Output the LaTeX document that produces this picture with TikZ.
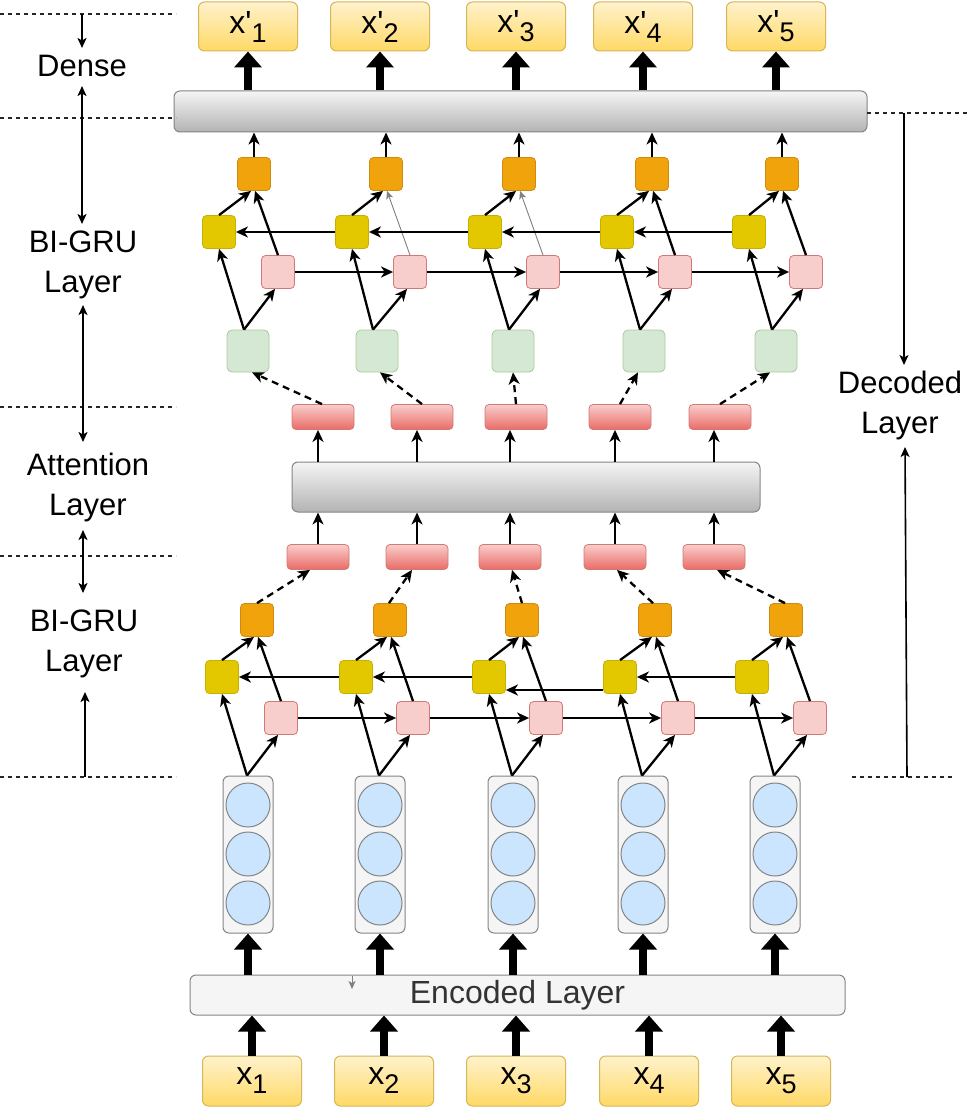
\documentclass[tikz,border=0pt]{standalone}
\usepackage{fontspec}
\newfontfamily\lsans{Liberation Sans}
\usetikzlibrary{arrows.meta,calc}
\definecolor{yfill}{HTML}{FFF2CC}
\definecolor{ygrad}{HTML}{FFD966}
\definecolor{ystroke}{HTML}{D6B656}
\definecolor{gfill}{HTML}{F5F5F5}
\definecolor{ggrad}{HTML}{B3B3B3}
\definecolor{gstroke}{HTML}{666666}
\definecolor{orfill}{HTML}{F0A30A}
\definecolor{orstroke}{HTML}{D08A10}
\definecolor{olfill}{HTML}{E3C800}
\definecolor{olstroke}{HTML}{C8B000}
\definecolor{pkfill}{HTML}{F8CECC}
\definecolor{pkstroke}{HTML}{D07A76}
\definecolor{rdgrad}{HTML}{EA6B66}
\definecolor{grfill}{HTML}{D5E8D4}
\definecolor{grstroke}{HTML}{A6CC98}
\definecolor{blfill}{HTML}{CCE5FF}
\definecolor{txtgray}{HTML}{333333}
\newcommand\xsub[2]{#1\raisebox{-9pt}{\fontsize{27pt}{27pt}\selectfont #2}}
\begin{document}
\begin{tikzpicture}[x=1pt,y=-1pt,
  every node/.style={font=\lsans},
  ioBox/.style={draw=ystroke, line width=1pt, rounded corners=6pt, top color=yfill, bottom color=ygrad, minimum width=99pt, minimum height=49pt, inner sep=0pt, font=\lsans\fontsize{32pt}{32pt}\selectfont},
  barBox/.style={draw=gstroke!80, line width=1pt, rounded corners=6pt, top color=gfill, bottom color=ggrad, inner sep=0pt},
  orBox/.style={draw=orstroke, fill=orfill, rounded corners=4pt, minimum size=33pt, inner sep=0pt, line width=0.8pt},
  olBox/.style={draw=olstroke, fill=olfill, rounded corners=4pt, minimum size=33pt, inner sep=0pt, line width=0.8pt},
  pkBox/.style={draw=pkstroke, fill=pkfill, rounded corners=4pt, minimum size=33pt, inner sep=0pt, line width=0.8pt},
  grBox/.style={draw=grstroke, fill=grfill, rounded corners=5pt, minimum size=42pt, inner sep=0pt, line width=0.8pt},
  rdBox/.style={draw=pkstroke, top color=pkfill, bottom color=rdgrad, rounded corners=4pt, minimum width=62pt, minimum height=25pt, inner sep=0pt, line width=0.8pt},
  colBox/.style={draw=gstroke!80, fill=gfill, rounded corners=6pt, minimum width=50pt, minimum height=157pt, inner sep=0pt, line width=1pt},
  cell/.style={circle, draw=gstroke!80, fill=blfill, minimum size=44pt, inner sep=0pt, line width=1pt},
  link/.style={line width=2.3pt, -{Stealth[length=12pt,width=11pt,inset=3.5pt]}},
  faint/.style={line width=0.9pt, draw=gray, -{Stealth[length=8pt,width=7pt,inset=2pt]}},
  dlink/.style={link, dash pattern=on 7pt off 5pt},
  bigArrow/.style={line width=8pt, -{Triangle[length=16pt,width=27pt]}},
  sepLine/.style={line width=1.3pt, dash pattern=on 4pt off 4pt, draw=black!85},
  lblArrow/.style={line width=1.6pt, -{Stealth[length=10pt,width=9pt,inset=2.5pt]}},
  lblArrows/.style={line width=1.6pt, {Stealth[length=10pt,width=9pt,inset=2.5pt]}-{Stealth[length=10pt,width=9pt,inset=2.5pt]}},
  lbl/.style={font=\lsans\fontsize{31pt}{40pt}\selectfont, align=center, inner sep=0pt}
]
\useasboundingbox (0,0) rectangle (969,1107);
\fill[white] (0,0) rectangle (969,1107);

% ---------- outputs and dense ----------
\foreach \i/\x in {1/248,2/380,3/516,4/643,5/776}
  \node[ioBox] (out\i) at (\x,26.5) {\xsub{x'}{\i}};
\node[barBox, minimum width=693pt, minimum height=41pt] (dense) at (520.5,111.5) {};
\foreach \i in {1,...,5}
  \draw[bigArrow] (dense.north -| out\i) -- (out\i.south);

% ---------- upper BI-GRU ----------
\foreach \i/\x in {1/254,2/386,3/519,4/652,5/782}
  \node[orBox] (oU\i) at (\x,174) {};
\foreach \i/\x in {1/219,2/352,3/485,4/617,5/749}
  \node[olBox] (yU\i) at (\x,232) {};
\foreach \i/\x in {1/278,2/410,3/543,4/675,5/806}
  \node[pkBox] (pU\i) at (\x,272) {};
\foreach \i/\x in {1/248,2/377,3/513,4/644,5/776}
  \node[grBox] (gU\i) at (\x,351) {};

\foreach \i in {1,...,5} {
  \draw[link] (oU\i.north) -- (oU\i.north |- dense.south);
  \draw[link] ($(gU\i.north)+(-4,0)$) -- (yU\i.south);
  \draw[link] ($(gU\i.north)+(-4,0)$) -- ($(pU\i.south)+(-3,0)$);
  \draw[link] (yU\i.north) -- ($(oU\i.south)+(-3,0)$);
}
\foreach \i in {1,4,5}
  \draw[link] (pU\i.north) -- ($(oU\i.south)+(1,0)$);
\foreach \i in {2,3}
  \draw[faint] (pU\i.north) -- ($(oU\i.south)+(1,0)$);
\foreach \i/\j in {1/2,2/3,3/4,4/5} {
  \draw[link] (pU\i.east) -- (pU\j.west);
  \draw[link] (yU\j.west) -- (yU\i.east);
}

% ---------- attention ----------
\foreach \i/\x in {1/323,2/422,3/516,4/620,5/720}
  \node[rdBox] (rU\i) at (\x,417) {};
\foreach \i/\x in {1/318,2/417,3/510,4/615,5/714}
  \node[rdBox] (rL\i) at (\x,557) {};
\node[barBox, minimum width=468pt, minimum height=50pt] (att) at (526,487) {};
\foreach \i in {1,...,5} {
  \draw[link] (rL\i.north) -- (rL\i.north |- att.south);
  \draw[link] (rL\i.north |- att.north) -- (rL\i.north |- rU\i.south);
}
\foreach \i/\a/\b in {1/-1/4,2/0/3,3/0/0,4/0/-6,5/0/-6}
  \draw[dlink] ($(rU\i.north)+(\a,0)$) -- ($(gU\i.south)+(\b,0)$);

% ---------- lower BI-GRU ----------
\foreach \i/\x in {1/257,2/390,3/522,4/655,5/786}
  \node[orBox] (oL\i) at (\x,620) {};
\foreach \i/\x in {1/222,2/356,3/489,4/620,5/752}
  \node[olBox] (yL\i) at (\x,677) {};
\foreach \i/\x in {1/281,2/413,3/546,4/678,5/810}
  \node[pkBox] (pL\i) at (\x,718) {};
\foreach \i/\a/\b in {1/0/-8,2/-1/-5,3/0/2,4/-2/2,5/-1/3}
  \draw[dlink] ($(oL\i.north)+(\a,0)$) -- ($(rL\i.south)+(\b,0)$);

% ---------- embedding columns ----------
\foreach \i/\x in {1/248,2/380,3/513,4/643,5/775} {
  \node[colBox] (col\i) at (\x,854.5) {};
  \node[cell] (c\i a) at (\x,805) {};
  \node[cell] (c\i b) at (\x,854) {};
  \node[cell] (c\i c) at (\x,903) {};
}

\foreach \i in {1,...,5} {
  \draw[link] ($(col\i.north)+(-1,0)$) -- (yL\i.south);
  \draw[link] ($(col\i.north)+(-1,0)$) -- ($(pL\i.south)+(-3,0)$);
  \draw[link] (yL\i.north) -- ($(oL\i.south)+(-3,0)$);
  \draw[link] (pL\i.north) -- ($(oL\i.south)+(1,0)$);
}
\foreach \i/\j in {1/2,2/3,3/4,4/5}
  \draw[link] (pL\i.east) -- (pL\j.west);
\foreach \i/\j in {1/2,2/3,4/5}
  \draw[link] (yL\j.west) -- (yL\i.east);
\draw[link] ($(yL4.west)+(0,13)$) -- ($(yL3.east)+(0,13)$);

% ---------- encoded layer and inputs ----------
\node[draw=gstroke!80, line width=1pt, fill=gfill, rounded corners=6pt, minimum width=655pt, minimum height=40pt, inner sep=0pt, text=txtgray, font=\lsans\fontsize{32pt}{32pt}\selectfont] (enc) at (517.5,995) {Encoded Layer};
\coordinate (gA) at (352,976);
\coordinate (gB) at (352,989);
\draw[faint] (gA) -- (gB);
\foreach \i in {1,...,5}
  \draw[bigArrow] (enc.north -| col\i) -- (col\i.south);
\foreach \i/\x in {1/252,2/384,3/516,4/649,5/781}
  \node[ioBox, minimum height=50pt] (in\i) at (\x,1081) {\xsub{x}{\i}};
\foreach \i in {1,...,5}
  \draw[bigArrow] (in\i.north) -- (enc.south -| in\i);

% ---------- left labels ----------
\foreach \n/\y in {a/14,b/118,c/407,d/556,e/777} {
  \coordinate (sL\n) at (0,\y);
  \coordinate (sR\n) at (176,\y);
  \draw[sepLine] (sL\n) -- (sR\n);
}
\node[lbl] (lDense) at (82,66) {Dense};
\node[lbl] (lGru1) at (83,265) {BI-GRU\\Layer};
\node[lbl] (lAtt) at (88,487) {Attention\\Layer};
\node[lbl] (lGru2) at (84,644) {BI-GRU\\Layer};

\coordinate (k1a) at (82,14);  \coordinate (k1b) at (82,48);
\coordinate (k2a) at (82,86);  \coordinate (k2b) at (82,224);
\coordinate (k3a) at (83,305); \coordinate (k3b) at (83,442);
\coordinate (k4a) at (83,530); \coordinate (k4b) at (83,593);
\coordinate (k5a) at (85,777); \coordinate (k5b) at (85,692);
\draw[lblArrow] (k1a) -- (k1b);
\draw[lblArrows] (k2a) -- (k2b);
\draw[lblArrows] (k3a) -- (k3b);
\draw[lblArrows] (k4a) -- (k4b);
\draw[lblArrow] (k5a) -- (k5b);

% ---------- right labels ----------
\coordinate (rsA1) at (867,113); \coordinate (rsA2) at (969,113);
\coordinate (rsB1) at (852,777); \coordinate (rsB2) at (955,777);
\draw[sepLine] (rsA1) -- (rsA2);
\draw[sepLine] (rsB1) -- (rsB2);
\node[lbl] (lDec) at (900,405) {Decoded\\Layer};
\coordinate (m1a) at (904,113); \coordinate (m1b) at (904,365);
\coordinate (m2a) at (907,777); \coordinate (m2b) at (905,447);
\draw[lblArrow] (m1a) -- (m1b);
\draw[lblArrow] (m2a) -- (m2b);
\end{tikzpicture}
\end{document}
